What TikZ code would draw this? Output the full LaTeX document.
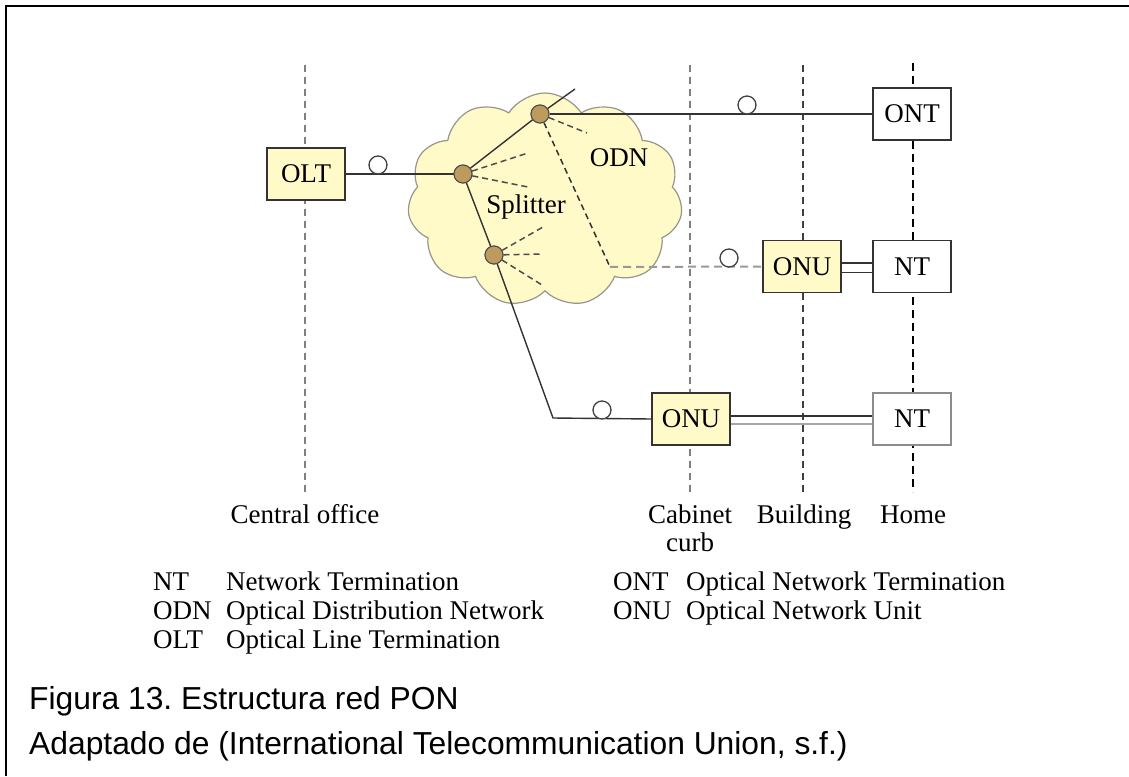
\documentclass[tikz,border=0pt]{standalone}
\usepackage{fontspec}
\setmainfont{Liberation Serif}
\newfontfamily\capfont{Liberation Sans}
\usetikzlibrary{shapes.symbols}
\definecolor{paleyellow}{RGB}{255,250,200}
\definecolor{splittan}{RGB}{191,154,94}
\definecolor{cloudedge}{RGB}{150,150,140}
\newcommand\diagfont{\fontsize{27}{29}\selectfont}
\newcommand\captionfont{\capfont\fontsize{31.8}{36}\selectfont\frenchspacing}
\begin{document}
\begin{tikzpicture}[x=1pt,y=-1pt,
  boxnode/.style={draw=black!80, line width=1.5pt, minimum width=78pt,
    minimum height=52pt, inner sep=0pt, font=\diagfont},
  yellowbox/.style={boxnode, fill=paleyellow},
  whitebox/.style={boxnode, fill=white},
  splitnode/.style={circle, draw=black!70, fill=splittan, minimum size=18pt,
    inner sep=0pt, line width=1pt},
  plug/.style={circle, draw=black!75, fill=white, minimum size=18pt,
    inner sep=0pt, line width=1.3pt},
  fiber/.style={draw=black!80, line width=1.4pt},
  boundary/.style={dash pattern=on 7pt off 5pt, line width=1.6pt},
  branch/.style={draw=black!70, dash pattern=on 6pt off 4pt, line width=1.5pt},
  lbl/.style={font=\diagfont, inner sep=0pt, anchor=base},
  legend/.style={font=\diagfont, inner sep=0pt, anchor=base west},
  caption/.style={font=\captionfont, inner sep=0pt, anchor=base west}]

\useasboundingbox (0,0) rectangle (1129,776);

% frame
\draw[line width=2.5pt] (6,776) -- (6,6) -- (1129,6);

% boundary lines between sites
\coordinate (co-top) at (305,65);  \coordinate (co-bot) at (305,495);
\coordinate (cab-top) at (690,65); \coordinate (cab-bot) at (690,495);
\coordinate (bld-top) at (803,65); \coordinate (bld-bot) at (803,495);
\coordinate (home-top) at (913,63); \coordinate (home-bot) at (913,492);
\draw[boundary, draw=black!50] (co-top) -- (co-bot);
\draw[boundary, draw=black!50] (cab-top) -- (cab-bot);
\draw[boundary, draw=black!75] (bld-top) -- (bld-bot);
\draw[boundary, draw=black, dash pattern=on 8pt off 5pt, line width=2pt] (home-top) -- (home-bot);

% optical distribution network cloud
\node[cloud, cloud puffs=11, cloud puff arc=115, cloud ignores aspect,
  minimum width=275pt, minimum height=214pt, fill=paleyellow,
  draw=cloudedge, line width=1.2pt] (odn) at (545,200) {};
\node[lbl] (odn-text) at (619,166) {ODN};
\node[lbl] (split-text) at (526,213) {Splitter};

% splitters
\node[splitnode] (s1) at (463,174) {};
\node[splitnode] (s2) at (540,114) {};
\node[splitnode] (s3) at (494,255) {};

% equipment
\node[yellowbox] (olt) at (306,174) {OLT};
\node[whitebox] (ont) at (912,114) {ONT};
\node[yellowbox] (onu1) at (802,266.5) {ONU};
\node[whitebox] (nt1) at (912,266.5) {NT};
\node[yellowbox] (onu2) at (691,419) {ONU};
\node[whitebox, draw=black!45, line width=2pt] (nt2) at (912,419) {NT};

% branch ends
\coordinate (tip) at (575,89);
\coordinate (d1a) at (528,153);
\coordinate (d1b) at (528,187);
\coordinate (d2a) at (587,133);
\coordinate (d3a) at (543,227);
\coordinate (d3b) at (542,254);
\coordinate (d3c) at (542,285);
\coordinate (bend1) at (610,267);
\coordinate (bend2) at (553,418);

% fibres
\draw[fiber] (olt.east) -- (s1);
\draw[fiber] (s1) -- (s2);
\draw[fiber] (s2) -- (tip);
\draw[fiber] (s2) -- (ont.west);
\draw[fiber] (s1) -- (s3);
\draw[fiber] (s3) -- (bend2) -- (onu2.west);
\draw[branch] (s1) -- (d1a);
\draw[branch] (s1) -- (d1b);
\draw[branch] (s2) -- (d2a);
\draw[branch] (s3) -- (d3a);
\draw[branch] (s3) -- (d3b);
\draw[branch] (s3) -- (d3c);
\draw[branch, draw=black!80] (s2) -- (bend1);
\draw[draw=black!40, dash pattern=on 8pt off 5pt, line width=2pt] (bend1) -- (onu1.west);

% electrical links
\draw[fiber] ([yshift=3.5pt]onu1.east) -- ([yshift=3.5pt]nt1.west);
\draw[fiber] ([yshift=-6pt]onu1.east) -- ([yshift=-6pt]nt1.west);
\draw[fiber] ([yshift=3pt]onu2.east) -- ([yshift=3pt]nt2.west);
\draw[draw=black!35, line width=2pt] ([yshift=-5pt]onu2.east) -- ([yshift=-5pt]nt2.west);

% redraw splitters above the fibres
\node[splitnode] at (s1) {};
\node[splitnode] at (s2) {};
\node[splitnode] at (s3) {};

% reference points
\node[plug] (p1) at (378,165) {};
\node[plug] (p2) at (747,105) {};
\node[plug] (p3) at (729,258) {};
\node[plug] (p4) at (602,410) {};

% site labels
\node[lbl] (l-co) at (305,523) {Central office};
\node[lbl] (l-cab) at (690,523) {Cabinet};
\node[lbl] (l-curb) at (690,551) {curb};
\node[lbl] (l-bld) at (804,523) {Building};
\node[lbl] (l-home) at (913,523) {Home};

% legend
\node[legend] (k1) at (153,590) {NT};
\node[legend] (v1) at (226,590) {Network Termination};
\node[legend] (k2) at (153,619) {ODN};
\node[legend] (v2) at (226,619) {Optical Distribution Network};
\node[legend] (k3) at (153,648) {OLT};
\node[legend] (v3) at (226,648) {Optical Line Termination};
\node[legend] (k4) at (613,590) {ONT};
\node[legend] (v4) at (686,590) {Optical Network Termination};
\node[legend] (k5) at (613,619) {ONU};
\node[legend] (v5) at (686,619) {Optical Network Unit};

% caption
\node[caption] (cap1) at (29,709) {Figura 13. Estructura red PON};
\node[caption] (cap2) at (29,754) {Adaptado de (International Telecommunication Union, s.f.)};
\end{tikzpicture}
\end{document}
